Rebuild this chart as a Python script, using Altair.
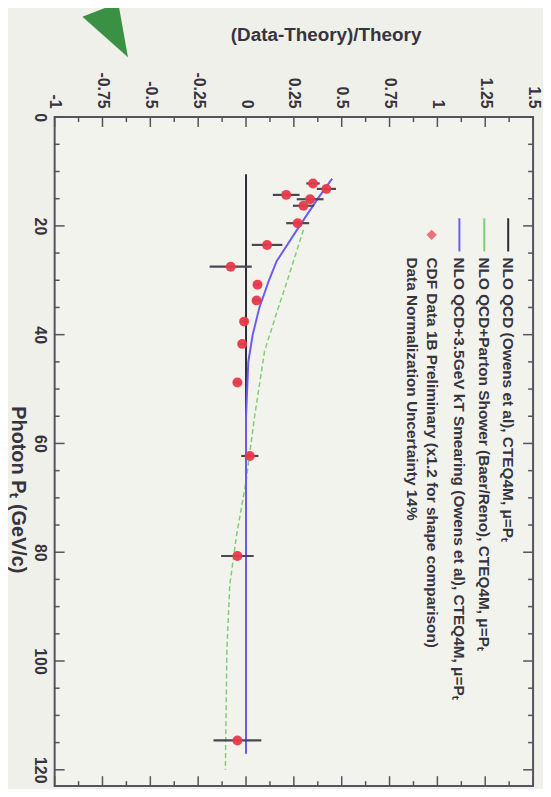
import altair as alt
import pandas as pd

# ---- data ----
pt_data = [12.2, 13.2, 14.3, 15.1, 16.3, 19.5, 23.5, 27.5, 30.8, 33.7, 37.6, 41.7, 48.8, 62.3, 80.7, 114.6]
ratio_data = [0.35, 0.42, 0.21, 0.335, 0.30, 0.27, 0.11, -0.08, 0.06, 0.055, -0.01, -0.02, -0.045, 0.02, -0.045, -0.045]
ratio_err = [0.035, 0.05, 0.07, 0.07, 0.055, 0.06, 0.08, 0.11, 0.02, 0.02, 0.02, 0.02, 0.02, 0.045, 0.085, 0.125]

theory_pt = [10.5, 117.0]
theory_ratio = [0.0, 0.0]

smear_pt = [11.3, 15.0, 20.0, 26.5, 30.0, 35.0, 40.0, 45.0, 55.0, 117.0]
smear_ratio = [0.45, 0.375, 0.28, 0.16, 0.12, 0.07, 0.035, 0.012, 0.0, 0.0]

shower_pt = [20.7, 29.6, 36.0, 43.0, 55.0, 67.0, 77.0, 86.0, 98.0, 120.0]
shower_ratio = [0.30, 0.22, 0.16, 0.097, 0.045, 0.0, -0.05, -0.085, -0.10, -0.108]

x_major = [-1, -0.75, -0.5, -0.25, 0, 0.25, 0.5, 0.75, 1, 1.25, 1.5]
x_minor = [-0.875, -0.625, -0.375, -0.125, 0.125, 0.375, 0.625, 0.875, 1.125, 1.375]
pt_major = [0, 20, 40, 60, 80, 100, 120]
pt_minor = [5, 10, 15, 25, 30, 35, 45, 50, 55, 65, 70, 75, 85, 90, 95, 105, 110, 115]

legend_labels = [
    "NLO QCD (Owens et al), CTEQ4M, \u03bc=P\u209c",
    "NLO QCD+Parton Shower (Baer/Reno), CTEQ4M, \u03bc=P\u209c",
    "NLO QCD+3.5GeV kT Smearing (Owens et al), CTEQ4M, \u03bc=P\u209c",
    "CDF Data 1B Preliminary (x1.2 for shape comparison)",
    "Data Normalization Uncertainty 14%",
]

# ---- layout / style constants ----
W, H = 482, 674
LEG_X = [1.37, 1.245, 1.115, 0.97, 0.865]
LEG_SYM_PT = (18.6, 24.7)
LEG_TXT_PT = 25.8
ARROW_V, ARROW_PT = -0.72, -15.9

FONT = "Liberation Sans"
INK = "#37333f"
FRAME = "#56525e"
RED = "#e8394a"
BLUE = "#6b5cf0"
GREEN = "#7ccf73"

LABEL_EXPR = "datum.value < 0 ? '-' + format(-datum.value, '~g') : format(datum.value, '~g')"

xs = alt.Scale(domain=[-1, 1.5], nice=False, zero=False)
ys = alt.Scale(domain=[0, 123], reverse=True, nice=False, zero=False)

X_AX = alt.Axis(orient="top", values=x_major, ticks=False, domain=False, grid=False,
                labelExpr=LABEL_EXPR,
                labelAngle=90, labelAlign="right", labelBaseline="middle", labelPadding=9,
                labelFont=FONT, labelFontSize=16, labelFontWeight="bold", labelColor=INK,
                title="(Data-Theory)/Theory", titleFont=FONT, titleFontSize=19,
                titleFontWeight="bold", titleColor=INK, titleAngle=0, titleAlign="center",
                titleBaseline="middle", titleX=273, titleY=-83, labelFlush=False,
                labelOverlap=False)
Y_AX = alt.Axis(orient="left", values=pt_major, ticks=False, domain=False, grid=False,
                labelExpr=LABEL_EXPR,
                labelAngle=90, labelAlign="center", labelBaseline="top", labelPadding=7,
                labelFont=FONT, labelFontSize=16, labelFontWeight="bold", labelColor=INK,
                title="Photon P\u209c    (GeV/c)", titleFont=FONT, titleFontSize=20,
                titleFontWeight="bold", titleColor=INK, titleAngle=90, titleAlign="center",
                titleBaseline="middle", titleX=-37, titleY=375, labelFlush=False,
                labelOverlap=False)


def X(field):
    return alt.X(field, type="quantitative", scale=xs, axis=X_AX)


def Y(field):
    return alt.Y(field, type="quantitative", scale=ys, axis=Y_AX)


# ---- tick marks (inward, on all four sides) ----
df_xmaj = pd.DataFrame({"v": x_major})
df_xmin = pd.DataFrame({"v": x_minor})
df_ymaj = pd.DataFrame({"pt": pt_major})
df_ymin = pd.DataFrame({"pt": pt_minor})

tick_style = dict(color=FRAME, strokeWidth=1.5)
ticks = [
    alt.Chart(df_xmaj).mark_rule(**tick_style).encode(x=X("v"), y=alt.value(0), y2=alt.value(10)),
    alt.Chart(df_xmin).mark_rule(**tick_style).encode(x=X("v"), y=alt.value(0), y2=alt.value(5)),
    alt.Chart(df_xmaj).mark_rule(**tick_style).encode(x=X("v"), y=alt.value(H), y2=alt.value(H - 10)),
    alt.Chart(df_xmin).mark_rule(**tick_style).encode(x=X("v"), y=alt.value(H), y2=alt.value(H - 5)),
    alt.Chart(df_ymaj).mark_rule(**tick_style).encode(y=Y("pt"), x=alt.value(0), x2=alt.value(10)),
    alt.Chart(df_ymin).mark_rule(**tick_style).encode(y=Y("pt"), x=alt.value(0), x2=alt.value(5)),
    alt.Chart(df_ymaj).mark_rule(**tick_style).encode(y=Y("pt"), x=alt.value(W), x2=alt.value(W - 10)),
    alt.Chart(df_ymin).mark_rule(**tick_style).encode(y=Y("pt"), x=alt.value(W), x2=alt.value(W - 5)),
]

# ---- theory curves ----
df_th = pd.DataFrame({"pt": theory_pt, "v": theory_ratio})
df_sm = pd.DataFrame({"pt": smear_pt, "v": smear_ratio})
df_sh = pd.DataFrame({"pt": shower_pt, "v": shower_ratio})

th_line = alt.Chart(df_th).mark_line(color="#2e2a36", strokeWidth=2).encode(
    x=X("v"), y=Y("pt"), order=alt.Order("pt:Q"))
sh_line = alt.Chart(df_sh).mark_line(color=GREEN, strokeWidth=1.5, strokeDash=[5, 3]).encode(
    x=X("v"), y=Y("pt"), order=alt.Order("pt:Q"))
sm_line = alt.Chart(df_sm).mark_line(color=BLUE, strokeWidth=2).encode(
    x=X("v"), y=Y("pt"), order=alt.Order("pt:Q"))

# ---- data points ----
df_pts = pd.DataFrame({
    "pt": pt_data,
    "v": ratio_data,
    "lo": [r - e for r, e in zip(ratio_data, ratio_err)],
    "hi": [r + e for r, e in zip(ratio_data, ratio_err)],
})
err_bars = alt.Chart(df_pts).mark_rule(color="#4a4652", strokeWidth=2.2).encode(
    x=X("lo"), x2="hi", y=Y("pt"))
points = alt.Chart(df_pts).mark_point(filled=True, color=RED, size=100, opacity=0.95).encode(
    x=X("v"), y=Y("pt"))

# ---- legend ----
df_leg_lines = pd.DataFrame({
    "v": LEG_X[:3], "pt": [LEG_SYM_PT[0]] * 3, "pt2": [LEG_SYM_PT[1]] * 3,
    "name": ["theory", "shower", "smear"],
})
leg_lines = alt.Chart(df_leg_lines).mark_rule(strokeWidth=2).encode(
    x=X("v"), y=Y("pt"), y2="pt2",
    color=alt.Color("name:N", scale=alt.Scale(domain=["theory", "shower", "smear"],
                                              range=["#2e2a36", GREEN, BLUE]), legend=None),
)
df_leg_pt = pd.DataFrame({"v": [LEG_X[3]], "pt": [sum(LEG_SYM_PT) / 2]})
leg_point = alt.Chart(df_leg_pt).mark_point(filled=True, color=RED, size=110, shape="diamond").encode(
    x=X("v"), y=Y("pt"))
df_leg_txt = pd.DataFrame({"v": LEG_X, "pt": [LEG_TXT_PT] * 5, "label": legend_labels})
leg_text = alt.Chart(df_leg_txt).mark_text(
    angle=90, align="left", baseline="middle", font=FONT, fontSize=15.5, fontWeight="bold", color=INK
).encode(x=X("v"), y=Y("pt"), text="label:N")

# ---- green pointer arrow seen at top-left of the photo ----
df_arrow = pd.DataFrame({"v": [ARROW_V], "pt": [ARROW_PT]})
arrow = alt.Chart(df_arrow).mark_point(
    filled=True, color="#2f8a3a", opacity=0.95, size=3136,
    shape="M -0.93 -0.5 L 0.36 -1 L 0.71 0.96 Z",
).encode(x=X("v"), y=Y("pt"))

chart = alt.layer(
    *ticks, th_line, sh_line, sm_line, err_bars, points,
    leg_lines, leg_point, leg_text, arrow,
).properties(
    width=W, height=H,
    padding={"left": 47, "top": 107, "right": 10, "bottom": 0},
    autosize=alt.AutoSizeParams(type="none"),
    background="#f0f0ea",
).configure_view(
    stroke=FRAME, strokeWidth=2, fill="#f3f3ee",
)

chart.save("out.html", embed_options={"renderer": "svg", "actions": False})
